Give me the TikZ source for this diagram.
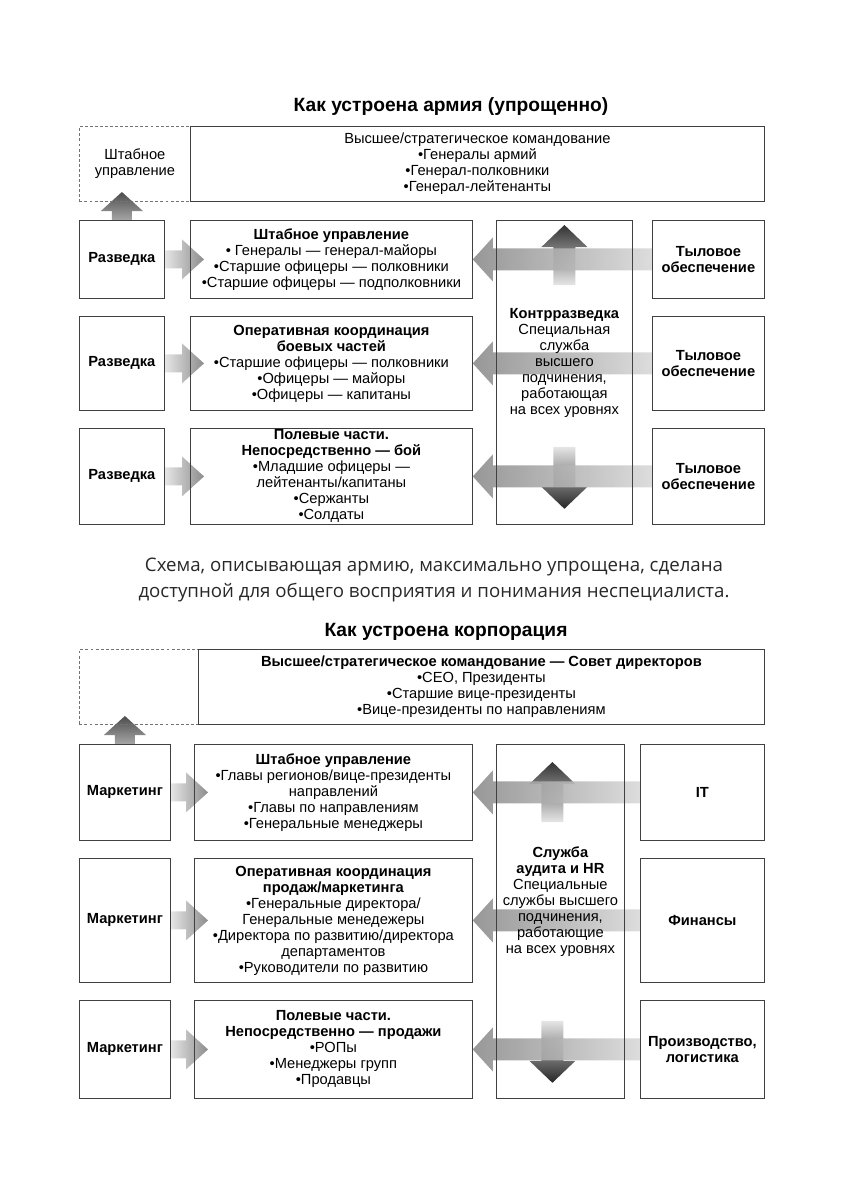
\documentclass[tikz,border=0pt]{standalone}
\usepackage{fontspec}
\setmainfont{Liberation Sans}
\newfontfamily\captionfamily{Open Sans}
\usetikzlibrary{positioning, calc, backgrounds}
\definecolor{captiongray}{RGB}{40,40,40}
\newcommand{\diagfont}{\fontsize{11}{12}\selectfont}
\newcommand{\headfont}{\fontsize{14.4}{17}\selectfont\bfseries}

% block arrows (px units of the picture)
\newcommand{\rblock}[2]{%
  \shade[left color=black!10, right color=black!45]
    ($(#1.east)+(0,-9)$) -- ($(#2.west)+(-8,-9)$) -- ($(#2.west)+(-8,-20)$)
    -- ($(#2.west)+(14,0)$) -- ($(#2.west)+(-8,20)$) -- ($(#2.west)+(-8,9)$)
    -- ($(#1.east)+(0,9)$) -- cycle;}
\newcommand{\lblock}[2]{%
  \shade[left color=black!45, right color=black!15, opacity=0.9]
    ($(#1.west)+(0,-11)$) -- ($(#2.east)+(20,-11)$) -- ($(#2.east)+(20,-22)$)
    -- (#2.east) -- ($(#2.east)+(20,22)$) -- ($(#2.east)+(20,11)$)
    -- ($(#1.west)+(0,11)$) -- cycle;}
\newcommand{\ublock}[1]{%
  \shade[top color=black!80, bottom color=black!10]
    (#1) -- ++(23,22) -- ++(-12,0) -- ++(0,38) -- ++(-22,0) -- ++(0,-38) -- ++(-12,0) -- cycle;}
\newcommand{\dblock}[1]{%
  \shade[top color=black!10, bottom color=black!85]
    (#1) -- ++(23,-22) -- ++(-12,0) -- ++(0,-40) -- ++(-22,0) -- ++(0,40) -- ++(-12,0) -- cycle;}
\newcommand{\sblock}[1]{%
  \shade[top color=black!70, bottom color=black!35]
    (#1) ++(-10,0) -- ++(0,-9) -- ++(-11,0) -- ++(21,-19) -- ++(21,19) -- ++(-11,0) -- ++(0,9) -- cycle;}

\begin{document}
\begin{tikzpicture}[x=0.75pt, y=-0.75pt,
  box/.style={draw=black!75, line width=0.6pt, align=center, anchor=north west,
              font=\diagfont, inner sep=0.5pt},
  dashbox/.style={draw=black!55, line width=0.6pt, dash pattern=on 2.2pt off 1.6pt,
              align=center, anchor=north west, font=\diagfont},
  wh/.style 2 args={minimum width=#1*0.75pt, minimum height=#2*0.75pt},
  headline/.style={font=\headfont, inner sep=0pt},
  plain/.style={align=center, font=\diagfont, inner sep=0pt}
]
\useasboundingbox (0,0) rectangle (849,1200);

% army
\node[headline] (title1) at (451,107) {Как устроена армия (упрощенно)};
\node[dashbox, wh={111}{75}] (staff1) at (79,126) {Штабное\\управление};
\node[box, wh={574}{75}] (top1) at (190,126) {Высшее/стратегическое командование\\•Генералы армий\\•Генерал-полковники\\•Генерал-лейтенанты};

\node[box, wh={85}{78}] (razv1) at (79,220) {\textbf{Разведка}};
\node[box, wh={282}{78}] (mid1) at (190,220) {\textbf{Штабное управление}\\• Генералы — генерал-майоры\\•Старшие офицеры — полковники\\•Старшие офицеры — подполковники};
\node[box, wh={136}{304}] (kr) at (496,220) {};
\node[box, wh={112}{78}] (tyl1) at (652,220) {\textbf{Тыловое}\\\textbf{обеспечение}};

\node[box, wh={85}{94}] (razv2) at (79,316) {\textbf{Разведка}};
\node[box, wh={282}{94}] (mid2) at (190,316) {\textbf{Оперативная координация}\\\textbf{боевых частей}\\•Старшие офицеры — полковники\\•Офицеры — майоры\\•Офицеры — капитаны};
\node[box, wh={112}{94}] (tyl2) at (652,316) {\textbf{Тыловое}\\\textbf{обеспечение}};

\node[box, wh={85}{96}] (razv3) at (79,428) {\textbf{Разведка}};
\node[box, wh={282}{96}] (mid3) at (190,428) {\textbf{Полевые части.}\\\textbf{Непосредственно — бой}\\•Младшие офицеры —\\лейтенанты/капитаны\\•Сержанты\\•Солдаты};
\node[box, wh={112}{96}] (tyl3) at (652,428) {\textbf{Тыловое}\\\textbf{обеспечение}};

\node[plain] (krtext) at (kr.center |- tyl2.center) {\textbf{Контрразведка}\\Специальная\\служба\\высшего\\подчинения,\\работающая\\на всех уровнях};

\node[font=\captionfamily\fontsize{14}{20}\selectfont, text=captiongray, align=center] (note) at (434,580)
  {Схема, описывающая армию, максимально упрощена, сделана\\доступной для общего восприятия и понимания неспециалиста.};

% corporation
\node[headline] (title2) at (446,632) {Как устроена корпорация};
\node[dashbox, wh={119}{75}] (staff2) at (79,649) {};
\node[box, wh={566}{75}] (top2) at (198,649) {\textbf{Высшее/стратегическое командование — Совет директоров}\\•CEO, Президенты\\•Старшие вице-президенты\\•Вице-президенты по направлениям};

\node[box, wh={91}{96}] (mkt1) at (79,744) {\textbf{Маркетинг}};
\node[box, wh={278}{96}] (cmid1) at (194,744) {\textbf{Штабное управление}\\•Главы регионов/вице-президенты\\направлений\\•Главы по направлениям\\•Генеральные менеджеры};
\node[box, wh={128}{354}] (audit) at (496,744) {};
\node[box, wh={124}{96}] (it) at (640,744) {\textbf{IT}};

\node[box, wh={91}{124}] (mkt2) at (79,858) {\textbf{Маркетинг}};
\node[box, wh={278}{124}] (cmid2) at (194,858) {\textbf{Оперативная координация}\\\textbf{продаж/маркетинга}\\•Генеральные директора/\\Генеральные менедежеры\\•Директора по развитию/директора\\департаментов\\•Руководители по развитию};
\node[box, wh={124}{124}] (fin) at (640,858) {\textbf{Финансы}};

\node[box, wh={91}{98}] (mkt3) at (79,1000) {\textbf{Маркетинг}};
\node[box, wh={278}{98}] (cmid3) at (194,1000) {\textbf{Полевые части.}\\\textbf{Непосредственно — продажи}\\•РОПы\\•Менеджеры групп\\•Продавцы};
\node[box, wh={124}{98}] (prod) at (640,1000) {\textbf{Производство,}\\\textbf{логистика}};

\node[plain] (audittext) at ($(audit.center)+(0,-20)$) {\textbf{Служба}\\\textbf{аудита и HR}\\Специальные\\службы высшего\\подчинения,\\работающие\\на всех уровнях};

\begin{pgfonlayer}{background}
  \sblock{razv1.north}
  \rblock{razv1}{mid1}
  \rblock{razv2}{mid2}
  \rblock{razv3}{mid3}
  \ublock{$(kr.north)+(0,5)$}
  \dblock{$(kr.south)+(0,-16)$}
  \lblock{tyl1}{mid1}
  \lblock{tyl2}{mid2}
  \lblock{tyl3}{mid3}

  \sblock{mkt1.north}
  \rblock{mkt1}{cmid1}
  \rblock{mkt2}{cmid2}
  \rblock{mkt3}{cmid3}
  \ublock{$(audit.north)+(-8,18)$}
  \dblock{$(audit.south)+(-8,-16)$}
  \lblock{it}{cmid1}
  \lblock{fin}{cmid2}
  \lblock{prod}{cmid3}
\end{pgfonlayer}
\end{tikzpicture}
\end{document}
